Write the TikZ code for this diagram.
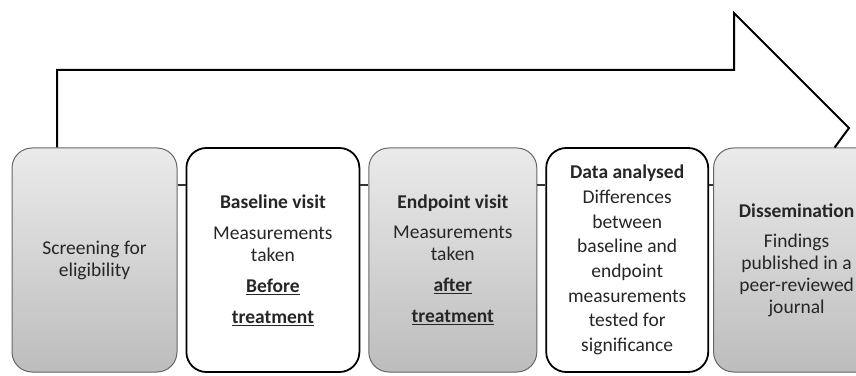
\documentclass[tikz,border=0pt]{standalone}
\usepackage{fontspec}
\setmainfont{Carlito}
\usetikzlibrary{positioning}

\begin{document}
\begin{tikzpicture}[
  x=1pt, y=1pt,
  node distance=8pt,
  stage/.style={rounded corners=20pt, align=center, minimum height=224pt, inner sep=2pt, text=black!85, font=\fontsize{19.5}{22}\selectfont},
  greybox/.style={stage, draw=black!60, line width=1pt, top color=black!8, bottom color=black!26},
  whitebox/.style={stage, draw=black, line width=1.8pt, fill=white},
  outline/.style={draw=black, line width=2pt, line join=miter},
  link/.style={draw=black!80, line width=2pt}
]
\useasboundingbox (0,0) rectangle (856,375);

% Stages, left to right
\node[greybox, minimum width=165pt] (screen) at (94.5,115) {Screening for\\eligibility};
\node[whitebox, minimum width=173pt, right=of screen] (base) {\textbf{Baseline visit}\\[9pt]Measurements\\taken\\[9pt]\textbf{\underline{Before}}\\[9pt]\textbf{\underline{treatment}}};
\node[greybox, minimum width=168pt, right=of base] (endp) {\textbf{Endpoint visit}\\[8pt]Measurements\\taken\\[9pt]\textbf{\underline{after}}\\[9pt]\textbf{\underline{treatment}}};
\node[whitebox, minimum width=162pt, right=of endp, font=\fontsize{19.5}{24.7}\selectfont] (analysis) {\textbf{Data analysed}\\Differences\\between\\baseline and\\endpoint\\measurements\\tested for\\significance};
\node[greybox, minimum width=166pt, right=4pt of analysis] (dissem) {\textbf{Dissemination}\\[8pt]Findings\\published in a\\peer-reviewed\\journal};

% Big arrow over the stages
\coordinate (neck) at (734,305);
\coordinate (barb) at (734,362);
\coordinate (tip)  at (849,247);
\draw[outline] ([xshift=-37.5pt]screen.north) |- (neck) -- (barb) -- (tip) -- ([xshift=38pt]dissem.north);

% Short links between the stages
\coordinate (rail) at (0,190);
\draw[link] (screen.east |- rail) -- (base.west |- rail);
\draw[link] (base.east |- rail) -- (endp.west |- rail);
\draw[link] (endp.east |- rail) -- (analysis.west |- rail);
\draw[link] (analysis.east |- rail) -- (dissem.west |- rail);

\end{tikzpicture}
\end{document}
